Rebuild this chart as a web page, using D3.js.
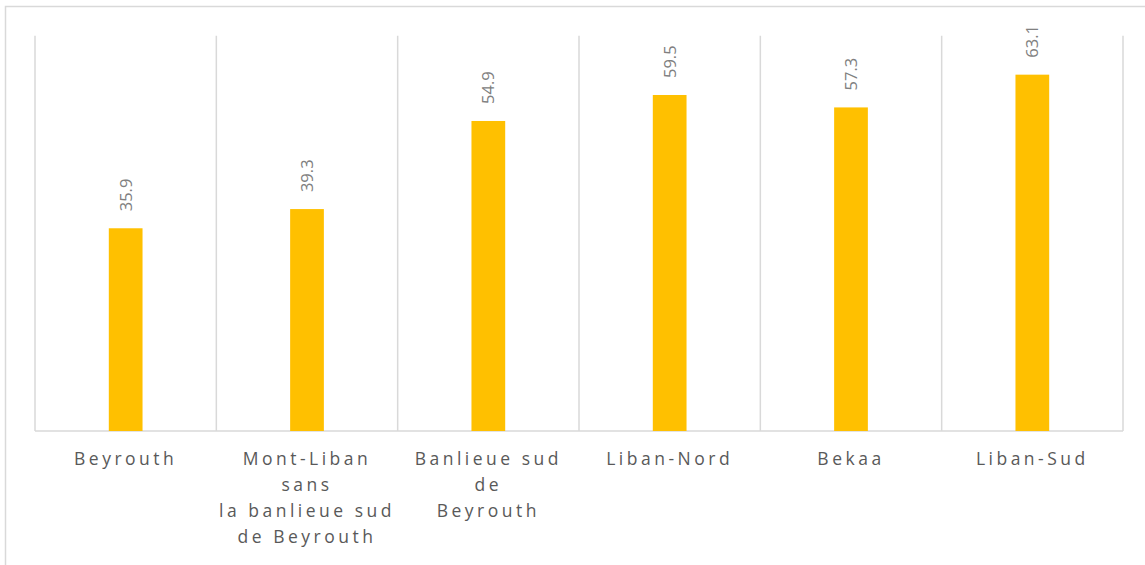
<!DOCTYPE html>
<html>
<head>
<meta charset="utf-8">
<script src="https://cdn.jsdelivr.net/npm/d3@7"></script>
<style>
  body { margin: 0; background: #fff; }
  svg { display: block; font-family: "Open Sans", "Noto Sans", sans-serif; }
</style>
</head>
<body>
<svg width="1145" height="565"></svg>
<script>
'use strict';

// regions (each entry = lines of the tick label)
const regions = [
	["Beyrouth"],
	["Mont-Liban", "sans", "la banlieue sud", "de Beyrouth"],
	["Banlieue sud", "de", "Beyrouth"],
	["Liban-Nord"],
	["Bekaa"],
	["Liban-Sud"]
];
const values = [35.9, 39.3, 54.9, 59.5, 57.3, 63.1];
const yMax = 70;

const svg = d3.select("svg");

// chart frame
svg.append("rect")
	.attr("x", 5.5).attr("y", 6.5)
	.attr("width", 1150).attr("height", 570)
	.attr("fill", "none")
	.attr("stroke", "#d9d9d9")
	.attr("stroke-width", 1.5);

const plotLeft = 35, plotRight = 1123, plotTop = 35.7, plotBottom = 431;

const x = d3.scaleBand()
	.domain(d3.range(regions.length))
	.range([plotLeft, plotRight])
	.paddingInner(0.814)
	.paddingOuter(0.407);

const step = (plotRight - plotLeft) / regions.length;

const y = d3.scaleLinear()
	.domain([0, yMax])
	.range([plotBottom, plotTop]);

// vertical gridlines at category boundaries
svg.append("g")
	.selectAll("line")
	.data(d3.range(regions.length + 1))
	.enter().append("line")
	.attr("x1", i => plotLeft + i * step)
	.attr("x2", i => plotLeft + i * step)
	.attr("y1", plotTop)
	.attr("y2", plotBottom)
	.attr("stroke", "#d9d9d9")
	.attr("stroke-width", 1.5);

// baseline
svg.append("line")
	.attr("x1", plotLeft).attr("x2", plotRight)
	.attr("y1", plotBottom).attr("y2", plotBottom)
	.attr("stroke", "#d9d9d9")
	.attr("stroke-width", 1.5);

// bars
svg.append("g")
	.selectAll("rect")
	.data(values)
	.enter().append("rect")
	.attr("x", (d, i) => x(i))
	.attr("width", x.bandwidth())
	.attr("y", d => y(d))
	.attr("height", d => plotBottom - y(d))
	.attr("fill", "#ffc000");

// value labels, rotated
svg.append("g")
	.selectAll("text")
	.data(values)
	.enter().append("text")
	.attr("transform", (d, i) => `translate(${x(i) + x.bandwidth() / 2 + 6},${y(d) - 17}) rotate(-90)`)
	.attr("font-size", 16.5)
	.attr("fill", "#808080")
	.text(d => d.toFixed(1));

// category labels
const lab = svg.append("g")
	.selectAll("text")
	.data(regions)
	.enter().append("text")
	.attr("x", (d, i) => x(i) + x.bandwidth() / 2)
	.attr("y", 465)
	.attr("text-anchor", "middle")
	.attr("font-size", 17.5)
	.attr("letter-spacing", 3.5)
	.attr("fill", "#595959");

lab.selectAll("tspan")
	.data(d => d)
	.enter().append("tspan")
	.attr("x", function() { return this.parentNode.getAttribute("x"); })
	.attr("dy", (d, i) => i === 0 ? 0 : 26)
	.text(d => d);
</script>
</body>
</html>
